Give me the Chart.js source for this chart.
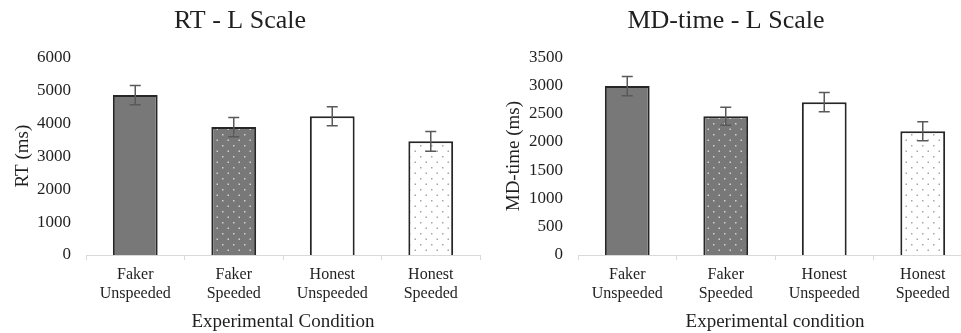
<!DOCTYPE html>
<html>
<head>
<meta charset="utf-8">
<script src="https://cdn.jsdelivr.net/npm/chart.js@4/dist/chart.umd.min.js"></script>
<style>
  body { margin: 0; background: #fff; width: 961px; height: 333px; overflow: hidden; position: relative; }
  .box { position: absolute; top: 0; }
</style>
</head>
<body>
<div class="box" style="left:0"><canvas id="rt" width="486" height="333"></canvas></div>
<div class="box" style="left:480px"><canvas id="md" width="508" height="333"></canvas></div>
<script>
// data
const categories = [['Faker', 'Unspeeded'], ['Faker', 'Speeded'], ['Honest', 'Unspeeded'], ['Honest', 'Speeded']];
const rtMeans = [4850, 3880, 4210, 3450];
const rtErrors = [290, 290, 290, 300];
const mdMeans = [2990, 2455, 2705, 2190];
const mdErrors = [170, 160, 170, 170];
const rtTicks = { max: 6000, step: 1000 };
const mdTicks = { max: 3500, step: 500 };

const FONT = 'Liberation Serif';
const INK = '#1f1f1f';

function dotPattern(bg, dot) {
    const c = document.createElement('canvas');
    c.width = 11; c.height = 11;
    const g = c.getContext('2d');
    g.fillStyle = bg;
    g.fillRect(0, 0, 11, 11);
    g.fillStyle = dot;
    g.fillRect(2, 2, 1.5, 1.5);
    g.fillRect(7.5, 7.5, 1.5, 1.5);
    return g.createPattern(c, 'repeat');
}

function fills() {
    return ['#787878', dotPattern('#787878', '#d0d0d0'), '#ffffff', dotPattern('#ffffff', '#a6a6a6')];
}

const errorBars = {
    id: 'errorBars',
    afterDatasetsDraw(chart) {
        const errs = chart.options.plugins.errorBars.errors;
        const means = chart.data.datasets[0].data;
        const y = chart.scales.y;
        const ctx = chart.ctx;
        ctx.save();
        ctx.strokeStyle = '#595959';
        ctx.lineWidth = 1.5;
        chart.getDatasetMeta(0).data.forEach((bar, i) => {
            const top = y.getPixelForValue(means[i] + errs[i]);
            const bot = y.getPixelForValue(means[i] - errs[i]);
            ctx.beginPath();
            ctx.moveTo(bar.x, top); ctx.lineTo(bar.x, bot);
            ctx.moveTo(bar.x - 5.5, top); ctx.lineTo(bar.x + 5.5, top);
            ctx.moveTo(bar.x - 5.5, bot); ctx.lineTo(bar.x + 5.5, bot);
            ctx.stroke();
        });
        ctx.restore();
    }
};

function makeChart(id, title, yTitle, xTitle, means, errors, ticks, yWidth, yTitlePad, rightPad) {
    return new Chart(document.getElementById(id), {
        type: 'bar',
        data: {
            labels: categories,
            datasets: [{
                data: means,
                backgroundColor: fills(),
                borderColor: '#262626',
                borderWidth: 2,
                categoryPercentage: 1,
                barPercentage: 0.455
            }]
        },
        options: {
            responsive: false,
            animation: false,
            layout: { padding: { left: 0, right: rightPad, top: 0, bottom: 0 } },
            plugins: {
                legend: { display: false },
                tooltip: { enabled: false },
                title: {
                    display: true,
                    text: title,
                    color: INK,
                    font: { family: FONT, size: 26, weight: 'normal' },
                    padding: { top: 6, bottom: 20 }
                },
                errorBars: { errors: errors }
            },
            scales: {
                x: {
                    afterFit: s => { s.height = 78; },
                    grid: { display: true, drawOnChartArea: false, offset: true, tickLength: 5, color: '#d9d9d9' },
                    border: { display: true, color: '#d9d9d9', width: 1 },
                    ticks: { color: INK, padding: 6, maxRotation: 0, font: { family: FONT, size: 16, lineHeight: 1.15 } },
                    title: { display: true, text: xTitle, color: INK, padding: { top: 0, bottom: 0 }, font: { family: FONT, size: 19 } }
                },
                y: {
                    min: 0,
                    max: ticks.max,
                    afterFit: s => { s.width = yWidth; },
                    grid: { display: false, drawTicks: false },
                    border: { display: false },
                    ticks: { stepSize: ticks.step, color: INK, padding: 15, font: { family: FONT, size: 17 }, callback: v => String(v) },
                    title: { display: true, text: yTitle, color: INK, padding: { top: yTitlePad, bottom: 0 }, font: { family: FONT, size: 19 } }
                }
            }
        },
        plugins: [errorBars]
    });
}

makeChart('rt', 'RT - L Scale', 'RT (ms)', 'Experimental Condition', rtMeans, rtErrors, rtTicks, 86, 12, 6);
makeChart('md', 'MD-time - L Scale', 'MD-time (ms)', 'Experimental condition', mdMeans, mdErrors, mdTicks, 98, 22.5, 16);
</script>
</body>
</html>
